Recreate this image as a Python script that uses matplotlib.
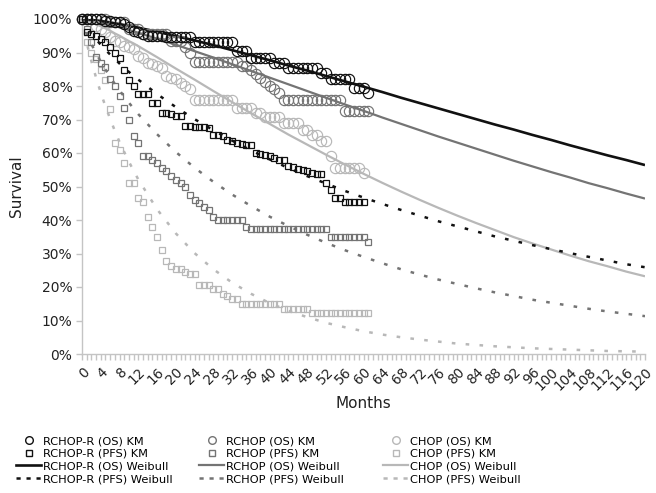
import numpy as np
import matplotlib
matplotlib.use('Agg')
import matplotlib.pyplot as plt
from matplotlib.lines import Line2D

plt.rcParams['font.family'] = ['DejaVu Sans']
plt.rcParams['lines.scale_dashes'] = False

# ---------------- Kaplan-Meier data (monthly, from month 0) ----------------
km_rchopr_os = [1.0, 1.0, 1.0, 1.0, 1.0, 0.995, 0.995, 0.99, 0.99,
                0.985, 0.975, 0.965, 0.96, 0.955,
                0.95, 0.95, 0.95, 0.948,
                0.945, 0.945, 0.945, 0.945, 0.945, 0.945,
                0.93, 0.93, 0.93, 0.93, 0.93, 0.93, 0.93, 0.93, 0.93,
                0.905, 0.905, 0.905,
                0.885, 0.885, 0.885, 0.885, 0.885,
                0.87, 0.87, 0.87,
                0.855, 0.855, 0.855, 0.855, 0.855, 0.855, 0.855,
                0.84, 0.84,
                0.82, 0.82, 0.82, 0.82, 0.82,
                0.795, 0.795, 0.795,
                0.78]
km_rchop_os = [1.0, 1.0, 1.0, 1.0, 1.0, 1.0,
               0.99, 0.99, 0.99, 0.99,
               0.97, 0.97, 0.97,
               0.955, 0.955, 0.955, 0.955, 0.955, 0.955,
               0.935, 0.935, 0.935,
               0.915, 0.90,
               0.872, 0.872, 0.872, 0.872, 0.872, 0.872, 0.872, 0.872, 0.872, 0.872,
               0.86, 0.86,
               0.848, 0.836, 0.825, 0.813, 0.80, 0.79, 0.78,
               0.757, 0.757, 0.757, 0.757, 0.757, 0.757, 0.757, 0.757, 0.757,
               0.757, 0.757, 0.757, 0.757,
               0.726, 0.726, 0.726, 0.726, 0.726, 0.726]
km_chop_os = [1.0, 1.0, 1.0,
              0.98, 0.97, 0.96,
              0.945, 0.935, 0.93,
              0.92, 0.915, 0.91,
              0.89, 0.885, 0.87, 0.865,
              0.86, 0.855,
              0.83, 0.825, 0.82,
              0.81, 0.80,
              0.79,
              0.757, 0.757, 0.757, 0.757, 0.757, 0.757, 0.757, 0.757, 0.757,
              0.735, 0.735, 0.735, 0.735,
              0.72, 0.72,
              0.708, 0.708, 0.708, 0.708,
              0.69, 0.69, 0.69, 0.69,
              0.67, 0.67,
              0.655, 0.655,
              0.635, 0.635,
              0.59,
              0.556, 0.556, 0.556, 0.556, 0.556, 0.556,
              0.54]
km_rchopr_pfs = [1.0, 0.96, 0.955, 0.95, 0.94, 0.93, 0.917, 0.90, 0.885, 0.848,
                 0.818, 0.80,
                 0.775, 0.775, 0.775,
                 0.75, 0.75,
                 0.72, 0.72, 0.715, 0.71, 0.71,
                 0.68, 0.68, 0.678, 0.678, 0.677, 0.675,
                 0.655, 0.655, 0.65,
                 0.64, 0.635, 0.63, 0.628, 0.625, 0.625,
                 0.60, 0.598, 0.595, 0.59, 0.585, 0.58, 0.58,
                 0.56, 0.557, 0.553, 0.55,
                 0.545, 0.54, 0.538, 0.536,
                 0.51, 0.49,
                 0.467, 0.467,
                 0.455, 0.455, 0.455, 0.455, 0.455]
km_rchop_pfs = [1.0, 0.97, 0.93, 0.887, 0.87, 0.857, 0.82, 0.80, 0.77, 0.735,
                0.70, 0.65, 0.63, 0.59, 0.59, 0.58, 0.57, 0.555, 0.545, 0.53,
                0.52, 0.51, 0.50, 0.476, 0.46, 0.45, 0.44, 0.43, 0.41,
                0.40, 0.40, 0.40, 0.40, 0.40, 0.40,
                0.38,
                0.372, 0.372, 0.372, 0.372, 0.372, 0.372, 0.372, 0.372, 0.372,
                0.372, 0.372, 0.372, 0.372, 0.372, 0.372, 0.372, 0.372,
                0.35, 0.35, 0.35, 0.35, 0.35, 0.35, 0.35, 0.35,
                0.333]
km_chop_pfs = [1.0, 0.93, 0.90, 0.88, 0.848, 0.818, 0.73, 0.63, 0.61, 0.57,
               0.51, 0.51, 0.467, 0.455, 0.41, 0.38, 0.35, 0.31, 0.277, 0.262,
               0.253, 0.253, 0.245, 0.238, 0.238, 0.205, 0.205, 0.205, 0.193,
               0.193, 0.179, 0.172, 0.164, 0.164,
               0.149, 0.149, 0.149, 0.149, 0.149, 0.149, 0.149, 0.149, 0.149,
               0.134, 0.134, 0.134, 0.134, 0.134, 0.134,
               0.122, 0.122, 0.122, 0.122, 0.122, 0.122, 0.122, 0.122, 0.122,
               0.122, 0.122, 0.122, 0.122]

# ---------------- Weibull curves (read at these months) ----------------
wb_months = [0, 1, 2, 3, 4, 5, 6, 7, 8, 9, 10, 11, 12, 16, 20, 24, 28, 32, 36,
             40, 44, 48, 52, 56, 60, 64, 68, 72, 76, 80, 84, 88, 92, 96, 100,
             104, 108, 112, 116, 120]
wb_rchopr_os = [1.0, 0.999, 0.998, 0.996, 0.994, 0.992, 0.99, 0.987, 0.985,
                0.982, 0.98, 0.977, 0.974, 0.962, 0.949, 0.936, 0.922, 0.907,
                0.892, 0.877, 0.861, 0.846, 0.83, 0.814, 0.798, 0.782, 0.765,
                0.749, 0.733, 0.717, 0.701, 0.685, 0.67, 0.654, 0.639, 0.623,
                0.608, 0.593, 0.579, 0.564]
wb_rchop_os = [1.0, 0.998, 0.996, 0.993, 0.989, 0.986, 0.983, 0.979, 0.975,
               0.971, 0.967, 0.963, 0.959, 0.941, 0.923, 0.904, 0.885, 0.865,
               0.845, 0.825, 0.805, 0.785, 0.765, 0.745, 0.726, 0.706, 0.687,
               0.668, 0.649, 0.631, 0.613, 0.595, 0.577, 0.560, 0.543, 0.527,
               0.510, 0.495, 0.479, 0.464]
wb_chop_os = [1.0, 0.996, 0.991, 0.985, 0.978, 0.972, 0.965, 0.957, 0.950,
              0.942, 0.934, 0.927, 0.919, 0.886, 0.852, 0.819, 0.785, 0.752,
              0.719, 0.687, 0.655, 0.625, 0.595, 0.566, 0.538, 0.511, 0.485,
              0.460, 0.436, 0.413, 0.391, 0.370, 0.349, 0.330, 0.312, 0.294,
              0.277, 0.262, 0.246, 0.232]
wb_rchopr_pfs = [1.0, 0.975, 0.956, 0.939, 0.923, 0.908, 0.894, 0.88, 0.867,
                 0.854, 0.842, 0.83, 0.819, 0.776, 0.737, 0.701, 0.668, 0.637,
                 0.608, 0.581, 0.555, 0.531, 0.509, 0.487, 0.467, 0.448, 0.43,
                 0.413, 0.396, 0.381, 0.366, 0.351, 0.338, 0.325, 0.313, 0.301,
                 0.29, 0.279, 0.268, 0.259]
wb_rchop_pfs = [1.0, 0.957, 0.925, 0.898, 0.873, 0.849, 0.827, 0.806, 0.787,
                0.768, 0.75, 0.733, 0.716, 0.656, 0.603, 0.556, 0.514, 0.476,
                0.442, 0.41, 0.382, 0.356, 0.332, 0.31, 0.29, 0.271, 0.253,
                0.237, 0.222, 0.209, 0.196, 0.184, 0.173, 0.162, 0.153, 0.144,
                0.135, 0.127, 0.12, 0.113]
wb_chop_pfs = [1.0, 0.929, 0.874, 0.825, 0.78, 0.739, 0.702, 0.666, 0.633,
               0.603, 0.574, 0.547, 0.521, 0.432, 0.36, 0.301, 0.253, 0.213,
               0.18, 0.152, 0.129, 0.11, 0.093, 0.08, 0.068, 0.058, 0.05,
               0.043, 0.037, 0.031, 0.027, 0.023, 0.02, 0.017, 0.015, 0.013,
               0.011, 0.009, 0.008, 0.007]

groups = ['RCHOP-R', 'RCHOP', 'CHOP']
colors = ['#111111', '#747474', '#b8b8b8']
km_os = [km_rchopr_os, km_rchop_os, km_chop_os]
km_pfs = [km_rchopr_pfs, km_rchop_pfs, km_chop_pfs]
wb_os = [wb_rchopr_os, wb_rchop_os, wb_chop_os]
wb_pfs = [wb_rchopr_pfs, wb_rchop_pfs, wb_chop_pfs]

x_tick_labels = [str(m) for m in range(0, 121, 4)]
y_ticks = [i / 10 for i in range(0, 11)]
y_tick_labels = [f'{i * 10}%' for i in range(0, 11)]

fig = plt.figure(figsize=(6.56, 4.93), dpi=100)
ax = fig.add_axes([82 / 656, 139 / 493, 563 / 656, 335 / 493])

DASH = (2.6, 7.4)
order = [2, 1, 0]  # draw light first so black is on top
for i in order:
    c = colors[i]
    ax.plot(wb_months, wb_os[i], color=c, lw=1.9 if i == 0 else 1.6,
            solid_capstyle='butt', zorder=2)
    ax.plot(wb_months, wb_pfs[i], color=c, lw=1.8, dashes=DASH, zorder=2)
for i in order:
    c = colors[i]
    ax.plot(range(len(km_os[i])), km_os[i], ls='none', marker='o', ms=7.4,
            mfc='none', mec=c, mew=0.85, clip_on=False, zorder=3)
    ax.plot(range(len(km_pfs[i])), km_pfs[i], ls='none', marker='s', ms=4.8,
            mfc='none', mec=c, mew=0.9, clip_on=False, zorder=3)

ax.set_xlim(0, 120)
ax.set_ylim(0, 1)
for s in ['top', 'right']:
    ax.spines[s].set_visible(False)
for s in ['left', 'bottom']:
    ax.spines[s].set_color('#c4c4c4')
    ax.spines[s].set_linewidth(1.0)

ax.set_yticks(y_ticks)
ax.set_yticklabels(y_tick_labels, fontsize=10, color='#222222')
ax.set_xticks(range(0, 121, 4))
ax.set_xticklabels(x_tick_labels, fontsize=9.8, color='#222222', rotation=45,
                   ha='right', va='top', rotation_mode='anchor')
ax.set_xticks(range(0, 121, 1), minor=True)
ax.tick_params(axis='both', which='both', direction='out', length=4,
               color='#c4c4c4', width=1.0)
ax.tick_params(axis='x', which='major', pad=4)
ax.tick_params(axis='y', which='major', pad=3)

ax.set_xlabel('Months', fontsize=11, color='#222222', labelpad=2)
ax.set_ylabel('Survival', fontsize=11, color='#222222', labelpad=6)

# ---------------- legend: three blocks ----------------
legend_x = [16 / 656, 199 / 656, 383 / 656]
for i, g in enumerate(groups):
    c = colors[i]
    handles = [
        Line2D([], [], ls='none', marker='o', ms=5.5, mfc='none', mec=c, mew=1.0),
        Line2D([], [], ls='none', marker='s', ms=4.0, mfc='none', mec=c, mew=1.0),
        Line2D([], [], color=c, lw=1.9 if i == 0 else 1.6),
        Line2D([], [], color=c, lw=1.8, dashes=(3.0, 4.2)),
    ]
    labels = [f'{g} (OS) KM', f'{g} (PFS) KM', f'{g} (OS) Weibull',
              f'{g} (PFS) Weibull']
    fig.legend(handles, labels, loc='upper left',
               bbox_to_anchor=(legend_x[i], 1 - 436 / 493), frameon=False,
               fontsize=8.2, handlelength=2.2, handletextpad=0.15,
               labelspacing=0.24, borderpad=0, borderaxespad=0)

fig.savefig('out.png', dpi=100)
